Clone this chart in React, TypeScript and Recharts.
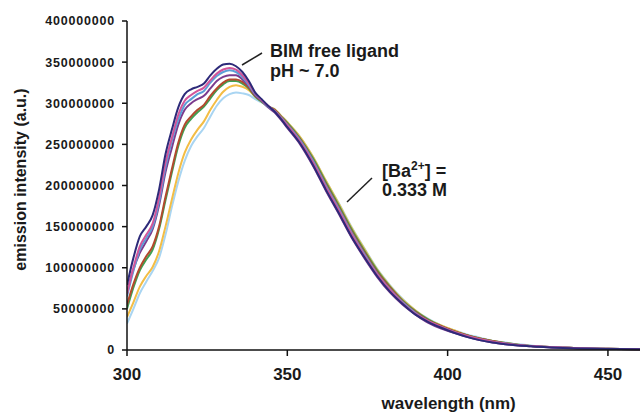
import { LineChart, Line, XAxis, YAxis } from 'recharts';

// wavelength grid (nm): 2 nm steps through the rise, coarser on the tail
const WAVELENGTHS = [
  300, 302, 304, 306, 308, 310, 312, 314, 316, 318, 320, 322, 324, 326, 328, 330, 332, 334, 336, 338, 340, 342, 344,
  346, 348, 350, 354, 358, 362, 366, 370, 374, 378, 382, 386, 390, 394, 398, 402, 406, 410, 414, 418, 422, 426, 430,
  436, 442, 450, 460,
];

// intensities in millions (a.u.)
const FREE_LIGAND = [
  79, 112, 138, 150, 164, 195, 238, 268, 295, 311, 317, 320, 324, 334, 342, 347, 348, 345, 338, 327, 313, 305, 297,
  290, 281, 271, 251, 225, 195, 167, 138, 113, 90, 71, 56, 43, 34, 27, 21, 16, 12, 9, 7, 5.5, 4.5, 3.5, 2.5, 1.8, 1.3, 1,
];
const BA_1 = [
  68, 100, 126, 140, 154, 185, 228, 258, 286, 303, 310, 315, 319, 328, 336, 341, 343, 341, 334, 324, 312, 304, 297,
  291, 282, 273, 253, 228, 198, 170, 141, 115, 92, 73, 57, 44, 35, 28, 22, 17, 13, 10, 8, 6, 5, 4, 3, 2, 1.5, 1,
];
const BA_2 = [
  65, 96, 122, 136, 150, 180, 222, 254, 280, 298, 305, 311, 315, 325, 333, 338, 340, 338, 332, 322, 311, 304, 296,
  291, 283, 274, 255, 230, 200, 172, 143, 117, 93, 74, 58, 45, 35, 28, 22, 17, 13, 10, 8, 6, 5, 4, 3, 2, 1.5, 1,
];
const BA_3 = [
  70, 98, 118, 132, 147, 176, 216, 246, 274, 292, 300, 305, 309, 318, 327, 332, 334, 334, 329, 321, 310, 303, 295,
  289, 280, 270, 250, 224, 194, 166, 137, 112, 89, 70, 55, 43, 33, 26, 21, 16, 12, 9, 7, 5.5, 4.5, 3.5, 2.5, 1.8, 1.3, 1,
];
const BA_4 = [
  55, 80, 100, 114, 126, 150, 186, 220, 252, 274, 284, 292, 298, 309, 318, 325, 329, 329, 326, 319, 309, 303, 296,
  292, 284, 275, 256, 231, 202, 174, 145, 119, 95, 76, 59, 46, 36, 29, 23, 18, 14, 11, 8, 6, 5, 4, 3, 2, 1.5, 1,
];
const BA_5 = [
  50, 76, 97, 110, 122, 147, 182, 216, 248, 270, 281, 289, 296, 306, 316, 323, 327, 327, 324, 318, 308, 302, 296,
  292, 284, 276, 257, 233, 204, 176, 147, 121, 97, 77, 60, 47, 37, 29, 23, 18, 14, 11, 8.5, 6.5, 5, 4, 3, 2, 1.5, 1,
];
const BA_6 = [
  40, 58, 77, 90, 101, 120, 150, 183, 215, 240, 256, 268, 278, 292, 304, 314, 320, 322, 320, 316, 308, 302, 296,
  293, 285, 277, 259, 235, 206, 178, 149, 123, 98, 78, 61, 48, 37, 30, 24, 18, 14, 11, 8.5, 6.5, 5, 4, 3, 2, 1.5, 1,
];
const BA_MAX = [
  32, 50, 69, 83, 96, 112, 140, 174, 205, 230, 248, 260, 270, 284, 297, 306, 311, 313, 312, 310, 305, 301, 296,
  293, 285, 277, 259, 235, 206, 179, 150, 124, 99, 79, 62, 48, 38, 30, 24, 19, 15, 11, 9, 7, 5.5, 4, 3, 2, 1.5, 1,
];

const X_TICKS = [300, 350, 400, 450];
const Y_TICKS = [0, 50000000, 100000000, 150000000, 200000000, 250000000, 300000000, 350000000, 400000000];

// back to front, so the free ligand trace sits on top
const SERIES = [
  { key: 'baMax', values: BA_MAX, color: '#a9d5f2' },
  { key: 'ba6', values: BA_6, color: '#f3bd45' },
  { key: 'ba5', values: BA_5, color: '#3fa152' },
  { key: 'ba4', values: BA_4, color: '#b24a2e' },
  { key: 'ba3', values: BA_3, color: '#7b3b8e' },
  { key: 'ba2', values: BA_2, color: '#5b9fd8' },
  { key: 'ba1', values: BA_1, color: '#d2559a' },
  { key: 'free', values: FREE_LIGAND, color: '#2d2a79' },
];

const data = WAVELENGTHS.map((wl, i) => {
  const row: Record<string, number> = { wl };
  SERIES.forEach((s) => {
    row[s.key] = s.values[i] * 1e6;
  });
  return row;
});

const FONT = '"Liberation Sans", Arial, sans-serif';

export default function App() {
  return (
    <div style={{ position: 'absolute', left: 0, top: 0, width: 641, height: 414, background: '#fff' }}>
      <LineChart width={641} height={414} data={data} margin={{ top: 21, right: 1, bottom: 0, left: 0 }}>
        <XAxis
          dataKey="wl"
          type="number"
          domain={[300, 460]}
          ticks={X_TICKS}
          allowDataOverflow
          height={64}
          tickSize={6}
          tickMargin={12}
          stroke="#111"
          strokeWidth={1.5}
          tick={{ fill: '#1a1a1a', fontSize: 17, fontWeight: 'bold', fontFamily: FONT }}
          label={{
            content: ({ viewBox }: any) => (
              <text
                x={viewBox.x + viewBox.width * 0.627}
                y={viewBox.y + 59}
                textAnchor="middle"
                fontSize={17}
                fontWeight="bold"
                fontFamily={FONT}
                fill="#1a1a1a"
              >
                wavelength (nm)
              </text>
            ),
          }}
        />
        <YAxis
          domain={[0, 400000000]}
          ticks={Y_TICKS}
          width={127}
          tickSize={5}
          tickMargin={7}
          stroke="#111"
          strokeWidth={1.5}
          tick={{ fill: '#1a1a1a', fontSize: 12.5, fontWeight: 'bold', fontFamily: FONT, letterSpacing: 0.8 }}
          label={{
            content: ({ viewBox }: any) => {
              const x = viewBox.x + 26;
              const y = viewBox.y + viewBox.height / 2 - 6;
              return (
                <text
                  x={x}
                  y={y}
                  transform={`rotate(-90 ${x} ${y})`}
                  textAnchor="middle"
                  fontSize={16}
                  fontWeight="bold"
                  fontFamily={FONT}
                  fill="#1a1a1a"
                >
                  emission intensity (a.u.)
                </text>
              );
            },
          }}
        />
        {SERIES.map((s) => (
          <Line
            key={s.key}
            dataKey={s.key}
            type="monotone"
            stroke={s.color}
            strokeWidth={2}
            dot={false}
            isAnimationActive={false}
          />
        ))}
      </LineChart>
      <svg
        width={641}
        height={414}
        style={{ position: 'absolute', left: 0, top: 0, pointerEvents: 'none' }}
        fontFamily={FONT}
        fontWeight="bold"
        fill="#1a1a1a"
      >
        <line x1={242} y1={65} x2={262} y2={53} stroke="#222" strokeWidth={1.5} />
        <text x={270} y={57} fontSize={18}>BIM free ligand</text>
        <text x={270} y={77} fontSize={18}>pH ~ 7.0</text>
        <line x1={347} y1={202} x2={372} y2={178} stroke="#222" strokeWidth={1.5} />
        <text x={382} y={177} fontSize={18}>
          [Ba<tspan fontSize={12} dy={-7}>2+</tspan>
          <tspan dy={7}>] =</tspan>
        </text>
        <text x={382} y={196} fontSize={18}>0.333 M</text>
      </svg>
    </div>
  );
}
